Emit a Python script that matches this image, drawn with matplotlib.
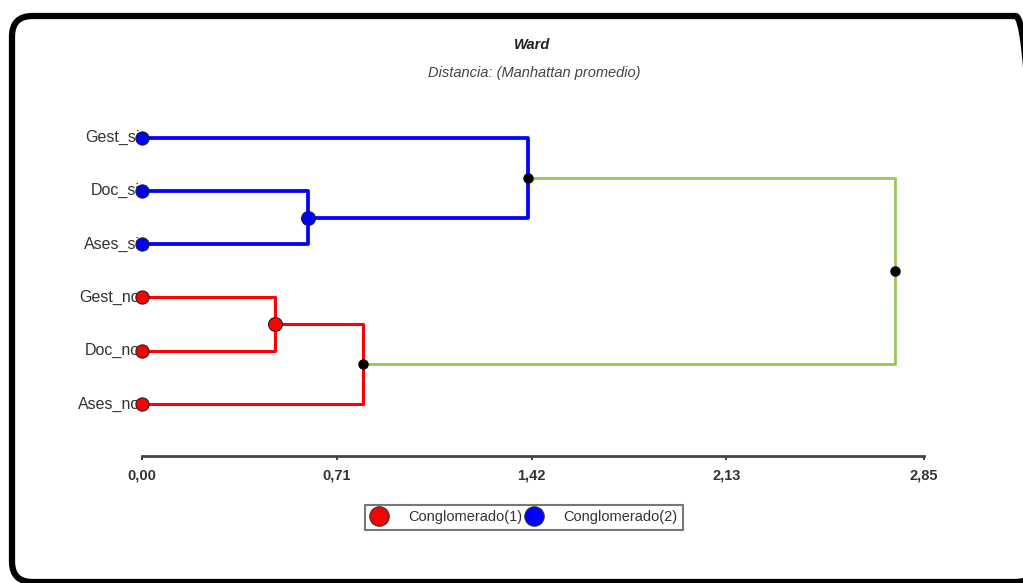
import matplotlib
matplotlib.use('Agg')
import matplotlib.pyplot as plt
from matplotlib.patches import FancyBboxPatch
from matplotlib.lines import Line2D

plt.rcParams['font.family'] = ['Liberation Sans', 'DejaVu Sans']

# leaves, top to bottom
leaf_labels = ['Gest_si', 'Doc_si', 'Ases_si', 'Gest_no', 'Doc_no', 'Ases_no']
leaf_colors = ['blue', 'blue', 'blue', 'red', 'red', 'red']

# merges: node 6, 7, 8, 9, 10
merge_left = [1, 3, 0, 7, 8]
merge_right = [2, 4, 6, 5, 9]
merge_height = [0.605, 0.484, 1.405, 0.805, 2.745]
merge_color = ['blue', 'red', 'blue', 'red', '#99c65a']
merge_dot = ['blue', 'red', 'black', 'black', 'black']

tick_vals = [0.0, 0.71, 1.42, 2.13, 2.85]
tick_labels = ['0,00', '0,71', '1,42', '2,13', '2,85']
legend_labels = ['Conglomerado(1)', 'Conglomerado(2)']
legend_colors = ['red', 'blue']

W, H = 1023, 583
fig = plt.figure(figsize=(W / 100, H / 100), dpi=100)

# rounded frame around the whole chart
frame = FancyBboxPatch((12 / W, 1 - 582 / H), (1036 - 12) / W, (582 - 16) / H,
                       boxstyle='round,pad=0,rounding_size=0.02',
                       transform=fig.transFigure, fill=False,
                       edgecolor='black', linewidth=4.5, mutation_aspect=W / H)
fig.patches.append(frame)

ax = fig.add_axes([142 / W, 1 - 456 / H, 782 / W, 345 / H])

# node positions
xs = [0.0] * len(leaf_labels)
ys = list(range(len(leaf_labels)))
for l, r, h in zip(merge_left, merge_right, merge_height):
    xs.append(h)
    ys.append((ys[l] + ys[r]) / 2)

lw_map = {'blue': 2.7, 'red': 2.2}
for i, (l, r, h, c) in enumerate(zip(merge_left, merge_right, merge_height, merge_color)):
    lw = lw_map.get(c, 2.0)
    ax.plot([xs[l], h, h, xs[r]], [ys[l], ys[l], ys[r], ys[r]],
            color=c, lw=lw, solid_joinstyle='round', zorder=2, clip_on=False)

# node markers
for i, (h, d) in enumerate(zip(merge_height, merge_dot)):
    n = len(leaf_labels) + i
    if d == 'black':
        ax.plot(h, ys[n], 'o', color='black', ms=6.5, zorder=4, clip_on=False)
    else:
        ax.plot(h, ys[n], 'o', color=d, mec='#222222', mew=0.8, ms=10, zorder=4, clip_on=False)

for i, (lab, c) in enumerate(zip(leaf_labels, leaf_colors)):
    ax.plot(0, ys[i], 'o', color=c, mec='#222222', mew=0.8, ms=9.5, zorder=4, clip_on=False)
    ax.annotate(lab, (0, ys[i]), xytext=(-1.5, 0), textcoords='offset points',
                ha='right', va='center', fontsize=11.5, color='#333333', zorder=3)

ax.set_xlim(0, 2.85)
ax.set_ylim(5 + 52 / 53.3, -0.5)
ax.set_xticks(tick_vals)
ax.set_xticklabels(tick_labels, fontsize=10.5, color='#333333', fontweight='bold')
ax.set_yticks([])
for s in ['top', 'right', 'left']:
    ax.spines[s].set_visible(False)
ax.spines['bottom'].set_color('#444444')
ax.spines['bottom'].set_linewidth(2)
ax.tick_params(axis='x', length=3, width=1.5, color='#444444', pad=6)

fig.text(532 / W, 1 - 45 / H, 'Ward', ha='center', va='center',
         fontsize=10.5, fontweight='bold', fontstyle='italic', color='#222222')
fig.text(534 / W, 1 - 73 / H, 'Distancia: (Manhattan promedio)', ha='center', va='center',
         fontsize=10.5, fontstyle='italic', color='#444444')

handles = [Line2D([], [], ls='', marker='o', ms=14, color=c, mec='#333333', mew=0.8)
           for c in legend_colors]
leg = fig.legend(handles, legend_labels, loc='center', bbox_to_anchor=(524 / W, 1 - 517.5 / H),
                 ncol=2, fontsize=10.5, frameon=True, fancybox=False, handlelength=1.2,
                 handletextpad=1.4, columnspacing=0.2, borderpad=0.35, borderaxespad=0)
leg.get_frame().set_edgecolor('#555555')
leg.get_frame().set_linewidth(1.5)
for t in leg.get_texts():
    t.set_color('#333333')

fig.savefig('out.png', dpi=100)
